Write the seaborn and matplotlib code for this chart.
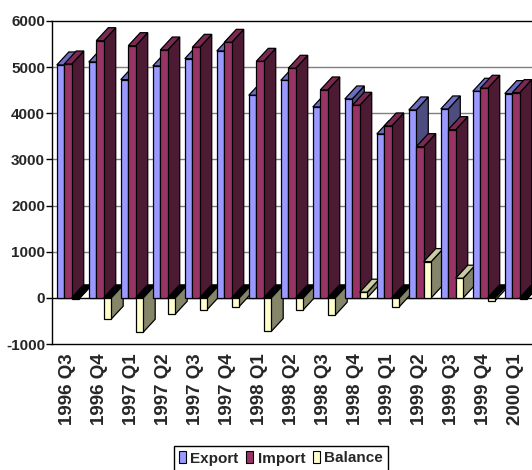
import numpy as np
import pandas as pd
import matplotlib
matplotlib.use("Agg")
import matplotlib.pyplot as plt
import seaborn as sns
from matplotlib.patches import Polygon, Patch

quarters = ["1996 Q3", "1996 Q4", "1997 Q1", "1997 Q2", "1997 Q3", "1997 Q4",
            "1998 Q1", "1998 Q2", "1998 Q3", "1998 Q4", "1999 Q1", "1999 Q2",
            "1999 Q3", "1999 Q4", "2000 Q1"]
export = [5047, 5112, 4730, 5025, 5184, 5350, 4390, 4714, 4137, 4310, 3552, 4072, 4094, 4477, 4426]
imports = [5068, 5573, 5465, 5371, 5429, 5537, 5126, 4975, 4505, 4173, 3725, 3277, 3646, 4542, 4448]
balance = [-21, -461, -745, -354, -253, -188, -729, -260, -375, 123, -195, 786, 426, -58, -22]
series_names = ["Export", "Import", "Balance"]
yticks = [-1000, 0, 1000, 2000, 3000, 4000, 5000, 6000]

front_cols = {"Export": "#9999FF", "Import": "#993366", "Balance": "#FFFFCC"}
top_cols = {"Export": "#6E6EC0", "Import": "#7A2952", "Balance": "#CCCCA3"}
side_cols = {"Export": "#4D4D80", "Import": "#4D1A33", "Balance": "#85856A"}

df = pd.DataFrame({
    "Quarter": quarters * 3,
    "Value": export + imports + balance,
    "Series": ["Export"] * len(quarters) + ["Import"] * len(quarters) + ["Balance"] * len(quarters),
})

sns.set_style("white")
plt.rcParams["font.family"] = ["Liberation Sans", "DejaVu Sans"]
plt.rcParams["axes.unicode_minus"] = False

W, H = 532, 470
fig = plt.figure(figsize=(W / 100, H / 100), dpi=100)
ax = fig.add_axes([52 / W, 1 - 344 / H, (532 - 52) / W, (344 - 21) / H])

sns.barplot(data=df, x="Quarter", y="Value", hue="Series", hue_order=series_names,
            palette=[front_cols[s] for s in series_names], width=0.7, dodge=True,
            edgecolor="black", linewidth=0.9, saturation=1, errorbar=None,
            legend=False, ax=ax)

ax.set_xlim(-0.5, len(quarters) - 0.5)
ax.set_ylim(-1000, 6000)

# 3D extrusion
dx = 12 / 32.0
dy = 13 * 7000 / 323.0
bars = []
for s, cont in zip(series_names, ax.containers):
    for p in cont:
        bars.append((p.get_x(), s, p))
bars.sort(key=lambda t: t[0])
for k, (x0, s, p) in enumerate(bars):
    w = p.get_width()
    y0 = p.get_y()
    h = p.get_height()
    top = max(y0, y0 + h)
    bot = min(y0, y0 + h)
    z = 3 + 0.01 * k
    tc = top_cols[s] if (y0 + h) >= 0 else "black"
    side = Polygon([(x0 + w, bot), (x0 + w, top), (x0 + w + dx, top + dy), (x0 + w + dx, bot + dy)],
                   closed=True, facecolor=side_cols[s], edgecolor="black", linewidth=0.9, zorder=z)
    topf = Polygon([(x0, top), (x0 + w, top), (x0 + w + dx, top + dy), (x0 + dx, top + dy)],
                   closed=True, facecolor=tc, edgecolor="black", linewidth=0.9, zorder=z + 0.001)
    ax.add_patch(side)
    ax.add_patch(topf)
    p.set_zorder(z + 0.005)

# grid
for v in yticks[1:-1]:
    ax.axhline(v, color="#000000" if v == 0 else "#7F7F7F", linewidth=1.0, zorder=0.5)

for sp in ["left", "bottom", "top"]:
    ax.spines[sp].set_color("black")
    ax.spines[sp].set_linewidth(1.0)
ax.spines["right"].set_visible(False)

ax.set_yticks(yticks)
ax.set_yticklabels([str(v) for v in yticks], fontsize=11, fontweight="bold")
ax.tick_params(axis="y", length=4, width=1, pad=1, color="black", left=True)
ax.tick_params(axis="x", length=0, pad=7)
ax.set_xticks(range(len(quarters)))
ax.set_xticklabels(quarters, rotation=90, fontsize=13.5, fontweight="bold")
ax.set_xlabel("")
ax.set_ylabel("")

handles = [Patch(facecolor=front_cols[s], edgecolor="black", linewidth=0.8) for s in series_names]
leg = fig.legend(handles, series_names, loc="upper center", bbox_to_anchor=(281 / W, 1 - 446 / H),
                 ncol=3, frameon=True, fancybox=False, edgecolor="black", framealpha=1,
                 prop={"weight": "bold", "size": 11}, handlelength=0.45, handleheight=0.8,
                 handletextpad=0.3, columnspacing=0.5, borderpad=0.35, borderaxespad=0)
leg.get_frame().set_linewidth(1.0)

fig.savefig("out.png", dpi=100)
